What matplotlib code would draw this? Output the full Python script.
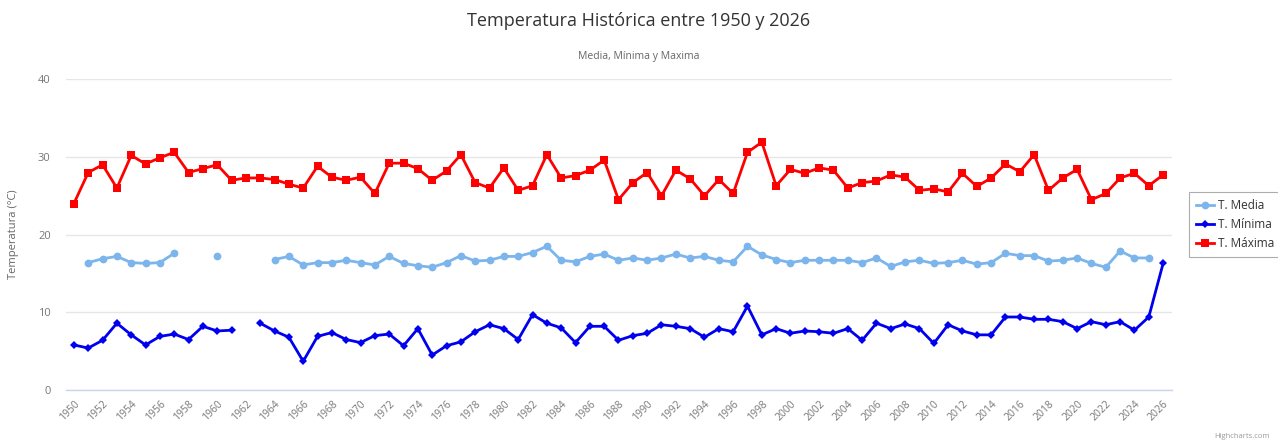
import numpy as np
import matplotlib
matplotlib.use("Agg")
import matplotlib.pyplot as plt

nan = np.nan

years = list(range(1950, 2027))

# One value per year (nan = no data)
t_media = [
    nan, 16.4, 16.9, 17.2, 16.4, 16.3, 16.4, 17.6, nan, nan,      # 1950-59
    17.2, nan, nan, nan, 16.8, 17.2, 16.1, 16.4, 16.4, 16.7,      # 1960-69
    16.4, 16.1, 17.2, 16.3, 16.0, 15.8, 16.4, 17.3, 16.6, 16.7,   # 1970-79
    17.2, 17.2, 17.7, 18.5, 16.7, 16.5, 17.2, 17.5, 16.7, 17.0,   # 1980-89
    16.7, 17.0, 17.5, 17.0, 17.2, 16.7, 16.5, 18.5, 17.4, 16.8,   # 1990-99
    16.4, 16.7, 16.7, 16.7, 16.7, 16.4, 17.0, 15.9, 16.5, 16.7,   # 2000-09
    16.3, 16.4, 16.7, 16.2, 16.4, 17.6, 17.3, 17.3, 16.6, 16.7,   # 2010-19
    17.0, 16.3, 15.8, 17.9, 17.0, 17.0, nan,                      # 2020-26
]

t_minima = [
    5.8, 5.4, 6.4, 8.6, 7.1, 5.8, 6.9, 7.2, 6.5, 8.2,             # 1950-59
    7.6, 7.7, nan, 8.6, 7.6, 6.8, 3.7, 6.9, 7.4, 6.5,             # 1960-69
    6.1, 7.0, 7.2, 5.7, 7.9, 4.5, 5.7, 6.2, 7.5, 8.4,             # 1970-79
    7.9, 6.5, 9.7, 8.6, 8.0, 6.1, 8.2, 8.2, 6.4, 7.0,             # 1980-89
    7.3, 8.4, 8.2, 7.9, 6.8, 7.9, 7.5, 10.8, 7.1, 7.9,            # 1990-99
    7.3, 7.6, 7.5, 7.3, 7.9, 6.4, 8.6, 7.9, 8.5, 7.9,             # 2000-09
    6.0, 8.4, 7.6, 7.1, 7.1, 9.4, 9.4, 9.1, 9.1, 8.8,             # 2010-19
    7.9, 8.8, 8.4, 8.8, 7.7, 9.4, 16.3,                           # 2020-26
]

t_maxima = [
    24.0, 28.0, 29.0, 26.0, 30.2, 29.1, 29.9, 30.6, 28.0, 28.5,   # 1950-59
    29.0, 27.0, 27.3, 27.3, 27.1, 26.5, 26.0, 28.8, 27.4, 27.0,   # 1960-69
    27.4, 25.3, 29.2, 29.2, 28.5, 27.0, 28.2, 30.3, 26.7, 26.0,   # 1970-79
    28.6, 25.7, 26.3, 30.3, 27.3, 27.6, 28.3, 29.6, 24.5, 26.7,   # 1980-89
    28.0, 25.0, 28.3, 27.2, 25.0, 27.1, 25.3, 30.6, 31.9, 26.3,   # 1990-99
    28.4, 27.9, 28.6, 28.3, 26.0, 26.7, 26.9, 27.7, 27.4, 25.7,   # 2000-09
    25.9, 25.5, 27.9, 26.2, 27.3, 29.1, 28.1, 30.3, 25.7, 27.3,   # 2010-19
    28.4, 24.5, 25.3, 27.3, 27.9, 26.3, 27.7,                     # 2020-26
]

series_names = ["T. Media", "T. Mínima", "T. Máxima"]
y_ticks = [0, 10, 20, 30, 40]
x_ticks = years[::2]

plt.rcParams["font.family"] = ["Open Sans", "DejaVu Sans"]

fig = plt.figure(figsize=(12.78, 4.41), dpi=100)
ax = fig.add_axes([66 / 1278, 1 - 390 / 441, (1172 - 66) / 1278, (390 - 79.3) / 441])

styles = [
    dict(color="#7cb5ec", marker="o", markersize=5.6),
    dict(color="#0000ee", marker="D", markersize=4.4),
    dict(color="#ff0000", marker="s", markersize=5.5),
]
for name, vals, st in zip(series_names, [t_media, t_minima, t_maxima], styles):
    ax.plot(years, vals, linewidth=2.0, label=name, zorder=3,
            markeredgewidth=0, **st)

ax.set_ylim(0, 40)
ax.set_xlim(1949.45, 2026.62)
ax.set_yticks(y_ticks)
ax.set_xticks(x_ticks)
ax.set_xticklabels([str(y) for y in x_ticks], rotation=45, ha="right",
                   rotation_mode="anchor", fontsize=7.5, color="#777777")
ax.set_yticklabels([str(v) for v in y_ticks], fontsize=8, color="#777777")
ax.tick_params(axis="both", length=0)
ax.tick_params(axis="x", pad=6)
ax.tick_params(axis="y", pad=11)

ax.grid(axis="y", color="#e6e6e6", linewidth=1.0)
ax.set_axisbelow(True)
for side in ["top", "right", "left"]:
    ax.spines[side].set_visible(False)
ax.spines["bottom"].set_color("#ccd6eb")
ax.spines["bottom"].set_linewidth(1.0)

ax.set_ylabel("Temperatura (°C)", fontsize=8, color="#666666", labelpad=14)

fig.text(0.5, 1 - 21 / 441, "Temperatura Histórica entre 1950 y 2026",
         ha="center", va="center", fontsize=13, color="#333333")
fig.text(0.5, 1 - 56 / 441, "Media, Mínima y Maxima",
         ha="center", va="center", fontsize=7.5, color="#666666")
fig.text(1270 / 1278, 1 - 436 / 441, "Highcharts.com",
         ha="right", va="center", fontsize=5.5, color="#999999")

leg = fig.legend(loc="upper left", bbox_to_anchor=(1183 / 1278, 1 - 186 / 441),
                 fontsize=8.5, frameon=True, fancybox=False, handlelength=1.5,
                 handletextpad=0.4, borderpad=0.6, labelspacing=0.5)
leg.get_frame().set_edgecolor("#999999")
leg.get_frame().set_linewidth(0.8)
for txt in leg.get_texts():
    txt.set_color("#333333")

fig.savefig("out.png", dpi=100)
